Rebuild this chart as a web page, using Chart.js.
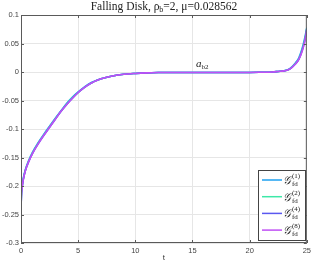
<!DOCTYPE html>
<html>
<head>
<meta charset="utf-8">
<script src="https://cdn.jsdelivr.net/npm/chart.js@4"></script>
<style>
  html, body { margin: 0; padding: 0; background: #fff; }
  #wrap { width: 314px; height: 263px; }
</style>
</head>
<body>
<div id="wrap"><canvas id="myChart" width="314" height="263"></canvas></div>
<script>
// time samples (t)
const tValues = [0, 0.02, 0.1, 0.2, 0.4, 0.7, 1, 1.5, 2, 2.5, 3, 3.5, 4, 4.5, 5, 5.5, 6, 7, 8, 9, 10,
    11, 12, 13, 14, 15, 16, 17, 18, 19, 20, 21, 22, 22.5, 23, 23.5, 24, 24.3, 24.6, 24.8, 25];

// G_fd for the four resolutions
const g1 = [-0.258, -0.225, -0.200, -0.186, -0.170, -0.154, -0.141, -0.124, -0.109, -0.095, -0.081,
    -0.068, -0.055, -0.044, -0.035, -0.027, -0.020, -0.012, -0.007, -0.004, -0.0025,
    -0.0015, -0.001, -0.0008, -0.0008, -0.0008, -0.0008, -0.0008, -0.0008, -0.0008, -0.0008,
    -0.0005, 0.0, 0.001, 0.002, 0.006, 0.016, 0.025, 0.042, 0.058, 0.078];
const g2 = [-0.260, -0.227, -0.202, -0.188, -0.171, -0.155, -0.142, -0.125, -0.110, -0.096, -0.082,
    -0.069, -0.056, -0.045, -0.036, -0.028, -0.021, -0.012, -0.007, -0.004, -0.0025,
    -0.0015, -0.001, -0.0008, -0.0008, -0.0008, -0.0008, -0.0008, -0.0008, -0.0008, -0.0008,
    -0.0005, 0.0, 0.001, 0.002, 0.005, 0.015, 0.023, 0.040, 0.055, 0.076];
const g4 = [-0.261, -0.228, -0.203, -0.189, -0.172, -0.156, -0.143, -0.126, -0.111, -0.097, -0.083,
    -0.069, -0.057, -0.046, -0.036, -0.028, -0.021, -0.012, -0.007, -0.004, -0.0025,
    -0.0015, -0.001, -0.0008, -0.0008, -0.0008, -0.0008, -0.0008, -0.0008, -0.0008, -0.0008,
    -0.0005, 0.0, 0.001, 0.002, 0.005, 0.014, 0.022, 0.038, 0.053, 0.075];
const g8 = [-0.262, -0.228, -0.203, -0.189, -0.172, -0.156, -0.143, -0.126, -0.111, -0.097, -0.083,
    -0.069, -0.057, -0.046, -0.036, -0.028, -0.021, -0.012, -0.007, -0.004, -0.0025,
    -0.0015, -0.001, -0.0008, -0.0008, -0.0008, -0.0008, -0.0008, -0.0008, -0.0008, -0.0008,
    -0.0005, 0.0, 0.001, 0.002, 0.005, 0.014, 0.022, 0.037, 0.052, 0.074];

const seriesLabels = ['(1)', '(2)', '(4)', '(8)'];
const seriesColors = ['#1ea0f0', '#3ee8a8', '#5a58f0', '#c050f5'];
const xTicks = [0, 5, 10, 15, 20, 25];
const yTicks = [0.1, 0.05, 0, -0.05, -0.1, -0.15, -0.2, -0.25, -0.3];

const toPoints = (ys) => tValues.map((t, i) => ({ x: t, y: ys[i] }));

// title, annotation, legend, box and inward ticks
const decorPlugin = {
    id: 'decor',
    afterDraw(chart) {
        const ctx = chart.ctx;
        const area = chart.chartArea;
        const xs = chart.scales.x;
        const ys = chart.scales.y;
        ctx.save();

        // box
        ctx.strokeStyle = '#5a5a5a';
        ctx.lineWidth = 1;
        ctx.strokeRect(area.left + 0.5, area.top + 0.5, area.right - area.left - 1, area.bottom - area.top - 1);

        // inward ticks
        ctx.beginPath();
        xTicks.forEach((v) => {
            const px = Math.round(xs.getPixelForValue(v)) + 0.5;
            ctx.moveTo(px, area.bottom); ctx.lineTo(px, area.bottom - 3);
            ctx.moveTo(px, area.top); ctx.lineTo(px, area.top + 3);
        });
        yTicks.forEach((v) => {
            const py = Math.round(ys.getPixelForValue(v)) + 0.5;
            ctx.moveTo(area.left, py); ctx.lineTo(area.left + 3, py);
            ctx.moveTo(area.right, py); ctx.lineTo(area.right - 3, py);
        });
        ctx.stroke();

        // title
        ctx.fillStyle = '#222';
        ctx.textBaseline = 'alphabetic';
        const big = '11.5px "Liberation Serif"';
        const small = '8px "Liberation Serif"';
        const parts = [['Falling Disk, ρ', big, 0], ['b', small, 2], ['=2, μ=0.028562', big, 0]];
        let total = 0;
        parts.forEach((p) => { ctx.font = p[1]; total += ctx.measureText(p[0]).width; });
        let x = (area.left + area.right) / 2 - total / 2;
        parts.forEach((p) => {
            ctx.font = p[1];
            ctx.fillText(p[0], x, 10 + p[2]);
            x += ctx.measureText(p[0]).width;
        });

        // annotation a_b2
        ctx.font = 'italic 11px "Liberation Serif"';
        const ax = xs.getPixelForValue(15.3);
        ctx.fillText('a', ax, 67);
        const aw = ctx.measureText('a').width;
        ctx.font = '7px "Liberation Serif"';
        ctx.fillText('b2', ax + aw, 69);

        // legend
        const lx = 258, ly = 170, lw = 47, lh = 70;
        ctx.fillStyle = '#fff';
        ctx.fillRect(lx, ly, lw, lh);
        ctx.strokeStyle = '#444';
        ctx.strokeRect(lx + 0.5, ly + 0.5, lw, lh);
        seriesLabels.forEach((lab, i) => {
            const cy = 180 + i * 16.7;
            ctx.strokeStyle = seriesColors[i];
            ctx.lineWidth = 1.5;
            ctx.beginPath();
            ctx.moveTo(262, cy); ctx.lineTo(282, cy);
            ctx.stroke();
            ctx.fillStyle = '#222';
            ctx.font = 'italic 11px "DejaVu Serif"';
            ctx.fillText('𝒢', 283, cy + 4);
            ctx.font = '7px "Liberation Serif"';
            ctx.fillText(lab, 292, cy - 2);
            ctx.fillText('fd', 292, cy + 6);
        });
        ctx.restore();
    }
};

new Chart(document.getElementById('myChart').getContext('2d'), {
    type: 'line',
    data: {
        datasets: seriesLabels.map((lab, i) => ({
            label: lab,
            data: toPoints([g1, g2, g4, g8][i]),
            borderColor: seriesColors[i],
            borderWidth: 1.6,
            pointRadius: 0,
            order: 3 - i,
            cubicInterpolationMode: 'monotone',
            fill: false
        }))
    },
    options: {
        responsive: false,
        animation: false,
        layout: { padding: { top: 15, right: 5, left: 0, bottom: 0 } },
        plugins: { legend: { display: false }, tooltip: { enabled: false } },
        scales: {
            x: {
                type: 'linear',
                min: 0,
                max: 25,
                afterBuildTicks: (scale) => { scale.ticks = xTicks.map((v) => ({ value: v })); },
                afterFit: (scale) => { scale.height = 20; },
                grid: { color: '#e6e6e6', drawTicks: false },
                border: { display: false },
                ticks: { color: '#444', padding: 3, font: { family: 'Liberation Sans', size: 7.5 } },
                title: { display: true, text: 't', color: '#333', padding: 0, font: { family: 'Liberation Sans', size: 8 } }
            },
            y: {
                min: -0.3,
                max: 0.1,
                afterBuildTicks: (scale) => { scale.ticks = yTicks.map((v) => ({ value: v })); },
                afterFit: (scale) => { scale.width = 21; },
                grid: { color: '#e6e6e6', drawTicks: false },
                border: { display: false },
                ticks: {
                    color: '#444',
                    padding: 2,
                    font: { family: 'Liberation Sans', size: 7.5 },
                    callback: (v) => String(Number(v.toFixed(2)))
                }
            }
        }
    },
    plugins: [decorPlugin]
});
</script>
</body>
</html>
